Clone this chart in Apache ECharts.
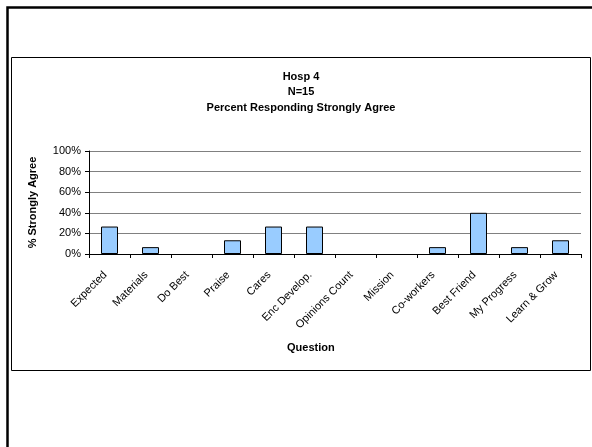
<!DOCTYPE html>
<html>
<head>
<meta charset="utf-8">
<script src="https://cdn.jsdelivr.net/npm/echarts@6/dist/echarts.min.js"></script>
<style>
  html, body { margin: 0; padding: 0; background: #fff; }
  #chart { width: 592px; height: 447px; }
</style>
</head>
<body>
<div id="chart"></div>
<script>
// Survey questions and the percent of 15 respondents answering "Strongly Agree"
const questions = ['Expected', 'Materials', 'Do Best', 'Praise', 'Cares', 'Enc Develop.',
  'Opinions Count', 'Mission', 'Co-workers', 'Best Friend', 'My Progress', 'Learn & Grow'];
const strongCounts = [4, 1, 0, 2, 4, 4, 0, 0, 1, 6, 1, 2];
const respondents = 15;
const percentStrong = strongCounts.map(c => c / respondents * 100);
const yTicks = [0, 20, 40, 60, 80, 100];

const FONT = '"Liberation Sans", Arial, sans-serif';
const chart = echarts.init(document.getElementById('chart'), null, { renderer: 'canvas' });

chart.setOption({
  animation: false,
  backgroundColor: '#ffffff',
  title: {
    text: 'Hosp 4\nN=15\nPercent Responding Strongly Agree',
    left: 301,
    top: 69,
    textAlign: 'center',
    textStyle: { fontFamily: FONT, fontSize: 11, fontWeight: 'bold', color: '#000', lineHeight: 15.4 },
    padding: 0
  },
  graphic: [
    { type: 'rect', shape: { x: 7.5, y: 7.5, width: 620, height: 480 },
      style: { fill: 'none', stroke: '#000', lineWidth: 2.5 }, silent: true },
    { type: 'rect', shape: { x: 11.5, y: 57.5, width: 579, height: 313 },
      style: { fill: 'none', stroke: '#000', lineWidth: 1 }, silent: true },
    { type: 'text', left: 287, top: 342,
      style: { text: 'Question', font: 'bold 11px ' + FONT, fill: '#000' }, silent: true }
  ],
  grid: { left: 89, right: 11, top: 151, bottom: 193, containLabel: false },
  xAxis: {
    type: 'category',
    data: questions,
    boundaryGap: true,
    axisLine: { lineStyle: { color: '#000', width: 1 } },
    axisTick: { show: true, length: 4, alignWithLabel: false, lineStyle: { color: '#000' } },
    axisLabel: { rotate: 45, interval: 0, margin: 15, padding: [0, 6, 0, 0],
      fontFamily: FONT, fontSize: 11, color: '#000' }
  },
  yAxis: {
    type: 'value',
    min: yTicks[0],
    max: yTicks[yTicks.length - 1],
    interval: 20,
    name: '% Strongly Agree',
    nameLocation: 'middle',
    nameGap: 51,
    nameRotate: 90,
    nameTextStyle: { fontFamily: FONT, fontSize: 11, fontWeight: 'bold', color: '#000' },
    axisLine: { show: true, lineStyle: { color: '#000', width: 1 } },
    axisTick: { show: true, length: 4, inside: false, lineStyle: { color: '#000' } },
    axisLabel: { formatter: '{value}%', margin: 8, fontFamily: FONT, fontSize: 11, color: '#000' },
    splitLine: { show: true, lineStyle: { color: '#808080', width: 1 } }
  },
  series: [{
    type: 'bar',
    // questions nobody strongly agreed with get no bar at all
    data: percentStrong.map(v => (v === 0 ? '-' : v)),
    barWidth: 17,
    itemStyle: { color: '#99CCFF', borderColor: '#000', borderWidth: 1 }
  }]
});
</script>
</body>
</html>
